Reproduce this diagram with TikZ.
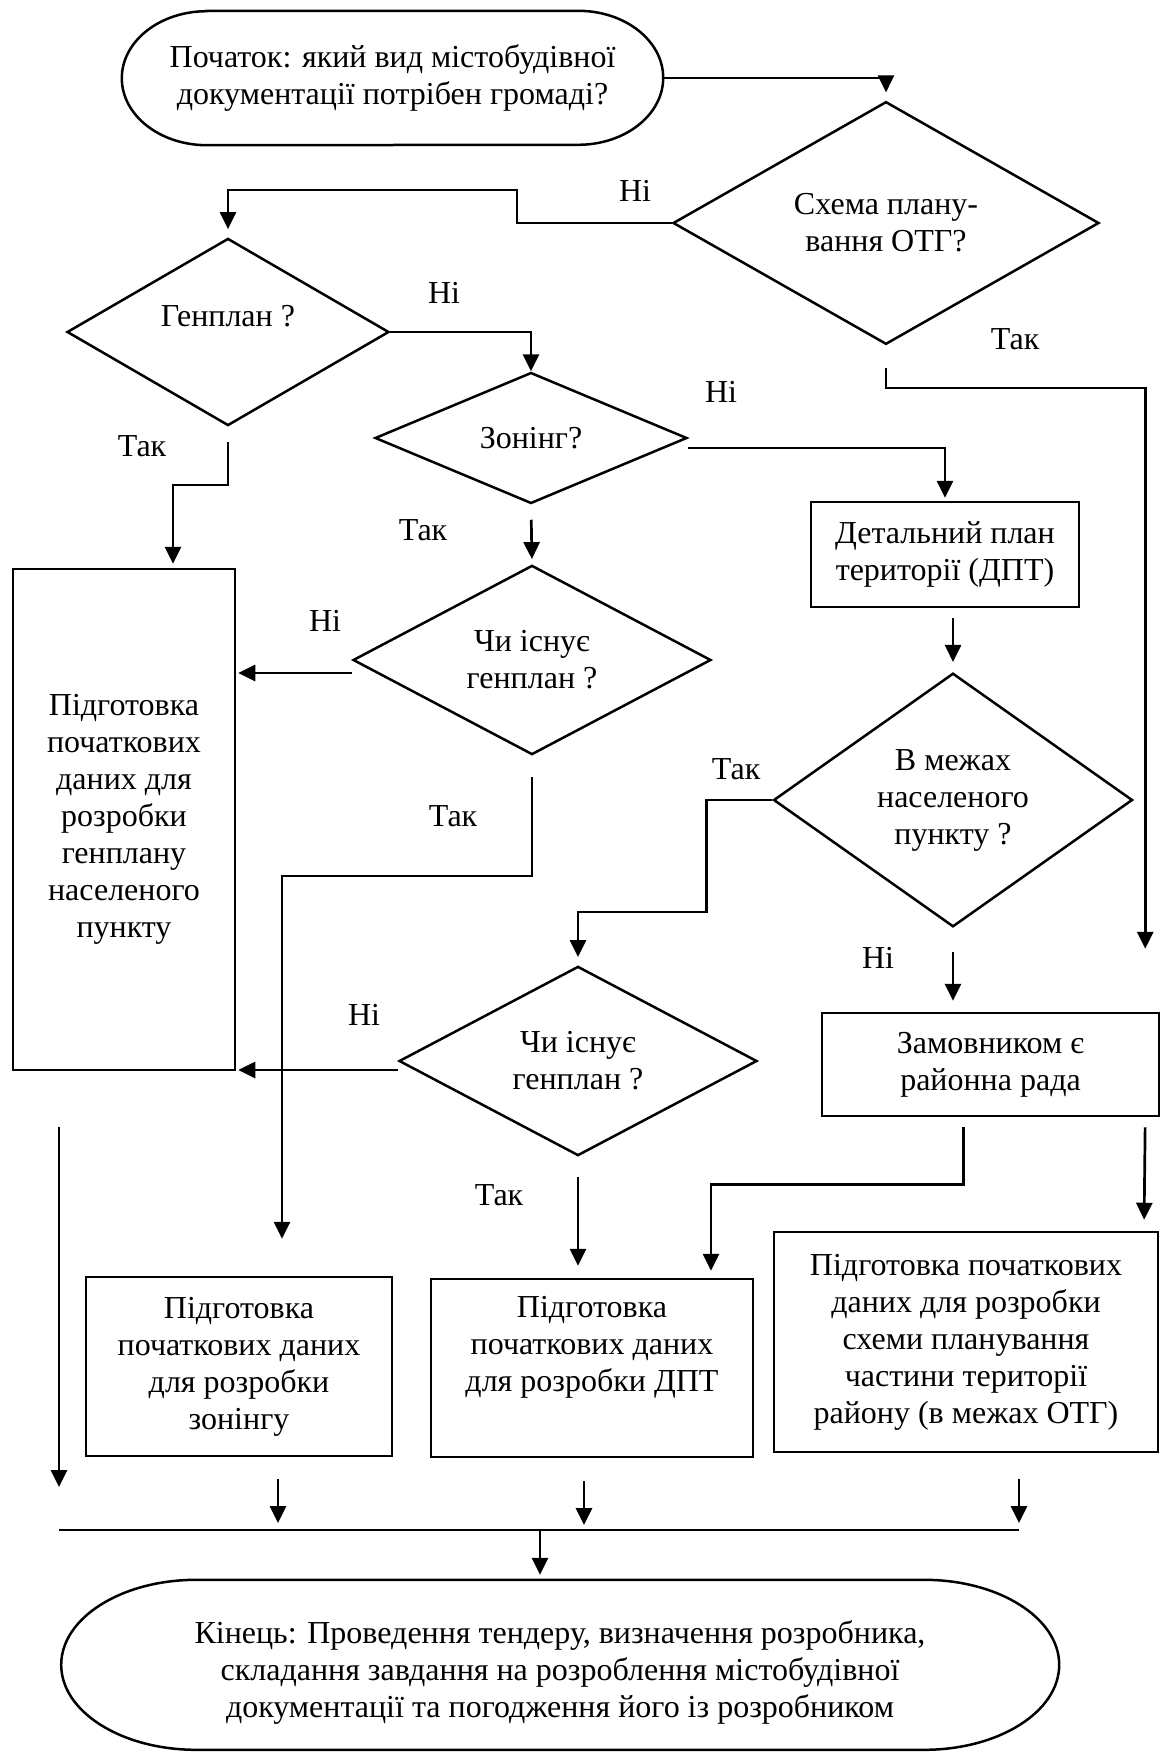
\documentclass[tikz,border=0pt]{standalone}
\usepackage{fontspec}
\setmainfont{Liberation Serif}
\usetikzlibrary{arrows.meta, shapes.geometric}

\begin{document}
\begin{tikzpicture}[x=1pt, y=-1pt,
    font=\fontsize{32}{37}\selectfont,
    box/.style={draw, line width=2.5pt, align=center, inner sep=0pt},
    dia/.style={diamond, draw, line width=2.5pt, align=center, inner sep=0pt},
    term/.style={align=center, inner sep=0pt},
    lbl/.style={inner sep=0pt},
    ln/.style={line width=2.5pt},
    arr/.style={-{Triangle[length=17pt, width=16pt]}, line width=2.7pt}
  ]
  \useasboundingbox (0,0) rectangle (1161,1753);

  % terminals
  \node[term, minimum width=541pt, minimum height=134pt] (start) at (392.5,78)
    {Початок: який вид містобудівної\\документації потрібен громаді?};
  \node[term, minimum width=998pt, minimum height=184pt] (end) at (560,1672)
    {Кінець: Проведення тендеру, визначення розробника,\\складання завдання на розроблення містобудівної\\документації та погодження його із розробником};
  \draw[ln] ([xshift=85pt]start.north west) -- ([xshift=-85pt]start.north east)
    arc[start angle=90, end angle=-90, x radius=85pt, y radius=67pt]
    -- ([xshift=85pt]start.south west)
    arc[start angle=270, end angle=90, x radius=85pt, y radius=67pt] -- cycle;
  \draw[ln] ([xshift=135pt]end.north west) -- ([xshift=-135pt]end.north east)
    arc[start angle=90, end angle=-90, x radius=135pt, y radius=85pt]
    -- ++(-728,0)
    arc[start angle=270, end angle=90, x radius=135pt, y radius=85pt] -- cycle;

  % decisions
  \node[dia, minimum width=426pt, minimum height=204pt] (otg) at (886,223) {Схема плану-\\вання ОТГ?};
  \node[dia, minimum width=322pt, minimum height=164pt] (gen) at (228,332) {\raisebox{32pt}{Генплан ?}};
  \node[dia, minimum width=312pt, minimum height=131pt] (zon) at (531,438) {Зонінг?};
  \node[dia, minimum width=358pt, minimum height=182pt] (chiA) at (532,660) {Чи існує\\генплан ?};
  \node[dia, minimum width=359pt, minimum height=243pt] (mezh) at (953,800) {В межах\\населеного\\пункту ?};
  \node[dia, minimum width=358pt, minimum height=181pt] (chiB) at (578,1061) {Чи існує\\генплан ?};

  % boxes
  \node[box, minimum width=268pt, minimum height=105pt] (dpt) at (945,554.5) {Детальний план\\території (ДПТ)};
  \node[box, minimum width=222pt, minimum height=501pt] (prepgen) at (124,819.5)
    {Підготовка\\початкових\\даних для\\розробки\\генплану\\населеного\\пункту};
  \node[box, minimum width=337pt, minimum height=103pt] (zam) at (990.5,1064.5) {Замовником є\\районна рада};
  \node[box, minimum width=306pt, minimum height=179pt] (prepzon) at (239,1366.5)
    {Підготовка\\початкових даних\\для розробки\\зонінгу};
  \node[box, minimum width=322pt, minimum height=178pt] (prepdpt) at (592,1368)
    {Підготовка\\початкових даних\\для розробки ДПТ\\\strut};
  \node[box, minimum width=384pt, minimum height=220pt] (prepotg) at (966,1342)
    {Підготовка початкових\\даних для розробки\\схеми планування\\частини території\\району (в межах ОТГ)};

  % labels
  \node[lbl] (noOtg)   at (635,191)  {Ні};
  \node[lbl] (yesOtg)  at (1015,339) {Так};
  \node[lbl] (noGen)   at (444,293)  {Ні};
  \node[lbl] (yesGen)  at (142,446)  {Так};
  \node[lbl] (noZon)   at (721,392)  {Ні};
  \node[lbl] (yesZon)  at (423,530)  {Так};
  \node[lbl] (noChiA)  at (325,621)  {Ні};
  \node[lbl] (yesChiA) at (453,816)  {Так};
  \node[lbl] (yesMezh) at (736,769)  {Так};
  \node[lbl] (noMezh)  at (878,958)  {Ні};
  \node[lbl] (noChiB)  at (364,1015) {Ні};
  \node[lbl] (yesChiB) at (499,1195) {Так};

  \coordinate (cA) at ([yshift=-13pt]chiA.west);
  \coordinate (cB) at ([yshift=-9pt]chiB.west);
  \coordinate (busL) at (59,1530);
  \coordinate (busZ) at (278,1530);
  \coordinate (busM) at (540,1530);
  \coordinate (busD) at (584,1530);
  \coordinate (busR) at (1019,1530);

  \draw[arr, shorten >=8pt] (start.east) -| (otg.north);
  \draw[arr, shorten >=8pt] (otg.west) -- (517,223) -- (517,190) -| (gen.north);
  \draw[arr] (gen.east) -| (zon.north);
  \draw[arr, shorten <=15pt, shorten >=4pt] (gen.south) -- (228,485) -| ([xshift=49pt]prepgen.north);
  \draw[arr, shorten >=3pt] ([yshift=-10pt]zon.east) -| (dpt.north);
  \draw[arr, shorten <=15pt, shorten >=5pt] (zon.south) -- (chiA.north);
  \draw[arr, shorten >=2pt] (cA) -- (cA -| prepgen.east);
  \draw[arr, shorten <=21pt, shorten >=37pt] (chiA.south) -- (532,876) -| ([xshift=43pt]prepzon.north);
  \draw[arr, shorten <=10pt, shorten >=10pt] (mezh.north |- dpt.south) -- (mezh.north);
  \draw[arr, shorten >=8pt] (mezh.west) -- ++(-66,0) -- ++(0,112) -| (chiB.north);
  \draw[arr, shorten <=24pt, shorten >=11pt] (mezh.south) -- (mezh.south |- zam.north);
  \draw[arr, shorten <=22pt, shorten >=63pt] (otg.south) -- (886,388) -| ([xshift=-15pt]zam.north east);
  \draw[arr, shorten <=10pt, shorten >=7pt] ([xshift=-27pt]zam.south) -- ++(0,67) -| ([xshift=119pt]prepdpt.north);
  \draw[arr, shorten <=10pt, shorten >=11pt] ([xshift=-15pt]zam.south east) -- ([xshift=178pt]prepotg.north);
  \draw[arr, shorten >=2pt] (cB) -- (cB -| prepgen.east);
  \draw[arr, shorten <=20pt, shorten >=12pt] (chiB.south) -- (chiB.south |- prepdpt.north);

  % collecting line
  \draw[ln] (busL) -- (busR);
  \draw[arr, shorten <=56pt, shorten >=43pt] (busL |- prepgen.south) -- (busL);
  \draw[arr, shorten <=22pt, shorten >=7pt] (busZ |- prepzon.south) -- (busZ);
  \draw[arr, shorten <=23pt, shorten >=5pt] (busD |- prepdpt.south) -- (busD);
  \draw[arr, shorten <=26pt, shorten >=7pt] (busR |- prepotg.south) -- (busR);
  \draw[arr, shorten >=5pt] (busM) -- (busM |- end.north);
\end{tikzpicture}
\end{document}
